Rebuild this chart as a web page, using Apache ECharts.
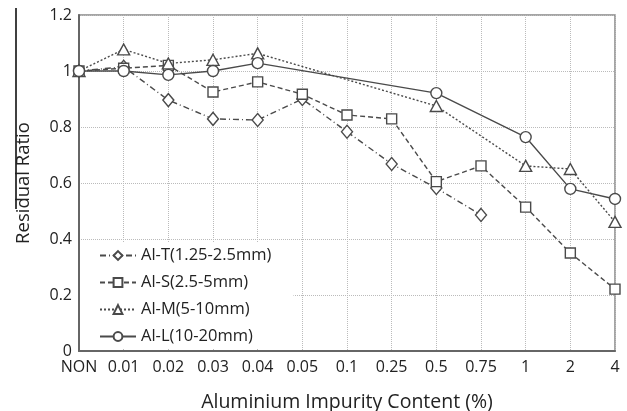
<!DOCTYPE html>
<html>
<head>
<meta charset="utf-8">
<script src="https://cdn.jsdelivr.net/npm/echarts@6/dist/echarts.min.js"></script>
<style>
  html, body { margin: 0; padding: 0; background: #fff; }
  #chart { width: 627px; height: 411px; }
</style>
</head>
<body>
<div id="chart"></div>
<script>
// categories and values
var categories = ["NON", "0.01", "0.02", "0.03", "0.04", "0.05", "0.1", "0.25", "0.5", "0.75", "1", "2", "4"];
var alT = [1.0, 1.015, 0.896, 0.829, 0.825, 0.9, 0.783, 0.668, 0.582, 0.486, null, null, null];
var alS = [1.0, 1.01, 1.02, 0.925, 0.961, 0.917, 0.843, 0.829, 0.605, 0.661, 0.514, 0.35, 0.221];
var alM = [1.0, 1.077, 1.027, 1.04, 1.063, null, null, null, 0.875, null, 0.661, 0.65, 0.461];
var alL = [1.0, 1.0, 0.986, 1.0, 1.028, null, null, null, 0.921, null, 0.764, 0.579, 0.543];
var yTicks = { min: 0, max: 1.2, interval: 0.2 };

var font = "Open Sans";
var ink = "#4a4a4a";
var textColor = "#222";

function makeSeries(name, data, symbol, size, dash) {
  return {
    name: name,
    type: "line",
    data: data,
    connectNulls: true,
    symbol: symbol,
    symbolSize: size,
    showAllSymbol: true,
    lineStyle: { color: ink, width: 1.4, type: dash },
    itemStyle: { color: "#fff", borderColor: ink, borderWidth: 1.4 },
    z: 3
  };
}

var chart = echarts.init(document.getElementById("chart"));

var option = {
  animation: false,
  grid: {
    left: 79, right: 12, top: 15, bottom: 60,
    outerBoundsMode: "none",
    show: true, borderColor: "#888", borderWidth: 1.5
  },
  legend: {
    orient: "vertical",
    left: 81, top: 243,
    backgroundColor: "#fff",
    padding: [4, 22, 3, 18],
    itemWidth: 36, itemHeight: 11, itemGap: 10,
    textStyle: { fontFamily: font, fontSize: 16.5, color: textColor },
    data: ["Al-T(1.25-2.5mm)", "Al-S(2.5-5mm)", "Al-M(5-10mm)", "Al-L(10-20mm)"]
  },
  xAxis: {
    type: "category",
    data: categories,
    boundaryGap: false,
    name: "Aluminium Impurity Content (%)",
    nameLocation: "middle",
    nameGap: 41,
    nameTextStyle: { fontFamily: font, fontSize: 19.5, color: textColor },
    axisLine: { lineStyle: { color: "#666", width: 2 } },
    axisTick: { show: false },
    axisLabel: { fontFamily: font, fontSize: 16, color: textColor, margin: 8, interval: 0 },
    splitLine: { show: true, lineStyle: { color: "#bbb", type: [1, 1], width: 1 } }
  },
  yAxis: {
    type: "value",
    min: yTicks.min, max: yTicks.max, interval: yTicks.interval,
    name: "Residual Ratio",
    nameLocation: "middle",
    nameGap: 46,
    nameTextStyle: { fontFamily: font, fontSize: 18.5, color: textColor },
    axisLine: { show: true, lineStyle: { color: "#666", width: 2 } },
    axisTick: { show: false },
    axisLabel: { fontFamily: font, fontSize: 16, color: textColor, margin: 7 },
    splitLine: { show: true, lineStyle: { color: "#bbb", type: [1, 1], width: 1 } }
  },
  graphic: [{
    type: "line",
    shape: { x1: 16, y1: 8, x2: 16, y2: 209 },
    style: { stroke: "#000", lineWidth: 1.5 }
  }],
  series: [
    makeSeries("Al-T(1.25-2.5mm)", alT, "diamond", [11, 13], [6, 3, 1, 3]),
    makeSeries("Al-S(2.5-5mm)", alS, "rect", 10, [5, 3]),
    makeSeries("Al-M(5-10mm)", alM, "triangle", [12, 11], [2, 2]),
    makeSeries("Al-L(10-20mm)", alL, "circle", 11, "solid")
  ]
};

chart.setOption(option);
</script>
</body>
</html>
